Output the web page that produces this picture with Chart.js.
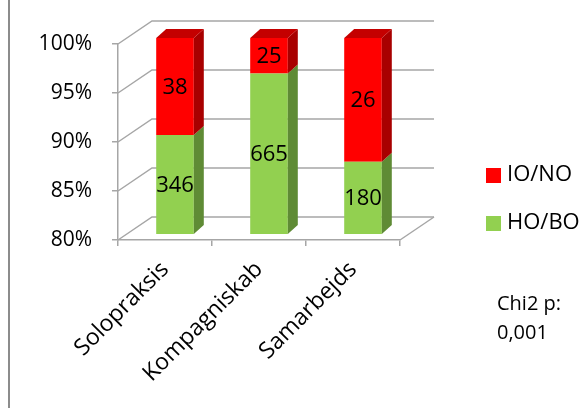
<!DOCTYPE html>
<html>
<head>
<meta charset="utf-8">
<script src="https://cdn.jsdelivr.net/npm/chart.js@4.4.1/dist/chart.umd.min.js"></script>
<style>
  html, body { margin: 0; padding: 0; background: #fff; }
  #wrap { position: relative; width: 586px; height: 408px; }
  #frame { position: absolute; left: 8px; top: 0; width: 2px; height: 408px; background: #8c8c8c; }
</style>
</head>
<body>
<div id="wrap">
  <canvas id="chart" width="586" height="408"></canvas>
  <div id="frame"></div>
</div>
<script>
// ── Data ──
const categories = ['Solopraksis', 'Kompagniskab', 'Samarbejds'];
const hoBo = [346, 665, 180];
const ioNo = [38, 25, 26];
const yTicks = [0.80, 0.85, 0.90, 0.95, 1.00];
const noteLines = ['Chi2 p:', '0,001'];

const FONT = "'Open Sans', 'DejaVu Sans', sans-serif";
const share = (a, b) => a.map((v, i) => v / (v + b[i]));

// 3D look
const BAR_SHIFT = { x: 10, y: -6 };   // bar plane behind the front axis
const BAR_DEPTH = { x: 10, y: -9 };   // depth of a bar
const WALL_DEPTH = { x: 34, y: -23 }; // depth of the back wall

const gridColor = '#a6a6a6';

// ── Back wall, 3D faces, labels, legend ──
const wallPlugin = {
  id: 'wall',
  beforeDatasetsDraw(chart) {
    const { ctx, scales: { y }, chartArea } = chart;
    ctx.save();
    ctx.strokeStyle = gridColor;
    ctx.lineWidth = 1.5;
    yTicks.forEach(t => {
      const py = y.getPixelForValue(t);
      ctx.beginPath();
      ctx.moveTo(chartArea.left, py);
      ctx.lineTo(chartArea.left + WALL_DEPTH.x, py + WALL_DEPTH.y);
      ctx.lineTo(chartArea.right + WALL_DEPTH.x, py + WALL_DEPTH.y);
      ctx.stroke();
    });
    // floor right edge
    ctx.beginPath();
    ctx.moveTo(chartArea.right, chartArea.bottom);
    ctx.lineTo(chartArea.right + WALL_DEPTH.x, chartArea.bottom + WALL_DEPTH.y);
    ctx.stroke();
    ctx.restore();

    ctx.save();
    ctx.translate(BAR_SHIFT.x, BAR_SHIFT.y);
  },
  afterDatasetsDraw(chart) {
    const { ctx, chartArea } = chart;
    const n = chart.data.datasets.length;
    const segs = [];
    chart.data.datasets.forEach((ds, di) => {
      chart.getDatasetMeta(di).data.forEach((bar, i) => {
        const p = bar.getProps(['x', 'y', 'base', 'width'], true);
        segs.push({
          ds, di, i,
          x1: p.x - p.width / 2, x2: p.x + p.width / 2, cx: p.x,
          top: Math.max(p.y, chartArea.top),
          bottom: Math.min(p.base, chartArea.bottom)
        });
      });
    });
    // side / top faces
    segs.forEach(s => {
      ctx.fillStyle = s.ds.sideColor;
      ctx.beginPath();
      ctx.moveTo(s.x2, s.top);
      ctx.lineTo(s.x2 + BAR_DEPTH.x, s.top + BAR_DEPTH.y);
      ctx.lineTo(s.x2 + BAR_DEPTH.x, s.bottom + BAR_DEPTH.y);
      ctx.lineTo(s.x2, s.bottom);
      ctx.closePath();
      ctx.fill();
      if (s.di === n - 1) {
        ctx.fillStyle = s.ds.topColor;
        ctx.beginPath();
        ctx.moveTo(s.x1, s.top);
        ctx.lineTo(s.x1 + BAR_DEPTH.x, s.top + BAR_DEPTH.y);
        ctx.lineTo(s.x2 + BAR_DEPTH.x, s.top + BAR_DEPTH.y);
        ctx.lineTo(s.x2, s.top);
        ctx.closePath();
        ctx.fill();
      }
    });
    // value labels
    ctx.fillStyle = '#000';
    ctx.font = '22px ' + FONT;
    ctx.textAlign = 'center';
    ctx.textBaseline = 'middle';
    segs.forEach(s => {
      ctx.fillText(String(s.ds.counts[s.i]), s.cx, (s.top + s.bottom) / 2 + 1);
    });
    ctx.restore();
  },
  afterDraw(chart) {
    const { ctx } = chart;
    ctx.save();
    // legend (reverse order like the reference)
    ctx.font = '22px ' + FONT;
    ctx.textBaseline = 'middle';
    ctx.textAlign = 'left';
    chart.data.datasets.slice().reverse().forEach((ds, i) => {
      const cy = 175 + i * 48;
      ctx.fillStyle = ds.backgroundColor;
      ctx.fillRect(486, cy - 7, 15, 15);
      ctx.fillStyle = '#000';
      ctx.fillText(ds.label, 507, cy);
    });
    // note
    ctx.font = '20px ' + FONT;
    noteLines.forEach((t, i) => ctx.fillText(t, 497, 304 + i * 29));
    ctx.restore();
  }
};

new Chart(document.getElementById('chart'), {
  type: 'bar',
  data: {
    labels: categories,
    datasets: [
      {
        label: 'HO/BO',
        data: share(hoBo, ioNo),
        counts: hoBo,
        backgroundColor: '#92d050',
        sideColor: '#5f8b35',
        topColor: '#7bb142'
      },
      {
        label: 'IO/NO',
        data: share(ioNo, hoBo),
        counts: ioNo,
        backgroundColor: '#ff0000',
        sideColor: '#a80000',
        topColor: '#c40000'
      }
    ]
  },
  options: {
    responsive: false,
    animation: false,
    events: [],
    layout: { padding: { top: 44, right: 186, bottom: 0, left: 0 } },
    datasets: { bar: { categoryPercentage: 1, barPercentage: 0.40 } },
    plugins: { legend: { display: false }, tooltip: { enabled: false } },
    scales: {
      x: {
        stacked: true,
        afterFit: s => { s.height = 168; },
        border: { display: true, color: gridColor, width: 1.5 },
        grid: { display: true, drawOnChartArea: false, drawTicks: true, tickLength: 6, color: gridColor, lineWidth: 1.5 },
        ticks: {
          color: '#000',
          font: { family: FONT, size: 23 },
          minRotation: 45,
          maxRotation: 45,
          padding: 10
        }
      },
      y: {
        stacked: true,
        min: 0.8,
        max: 1.0,
        afterFit: s => { s.width = 118; },
        afterBuildTicks: s => { s.ticks = yTicks.map(v => ({ value: v })); },
        border: { display: true, color: gridColor, width: 1.5 },
        grid: { display: true, drawOnChartArea: false, drawTicks: true, tickLength: 6, color: gridColor, lineWidth: 1.5 },
        ticks: {
          color: '#000',
          font: { family: FONT, size: 21 },
          padding: 20,
          callback: v => Math.round(v * 100) + '%'
        }
      }
    }
  },
  plugins: [wallPlugin]
});
</script>
</body>
</html>
